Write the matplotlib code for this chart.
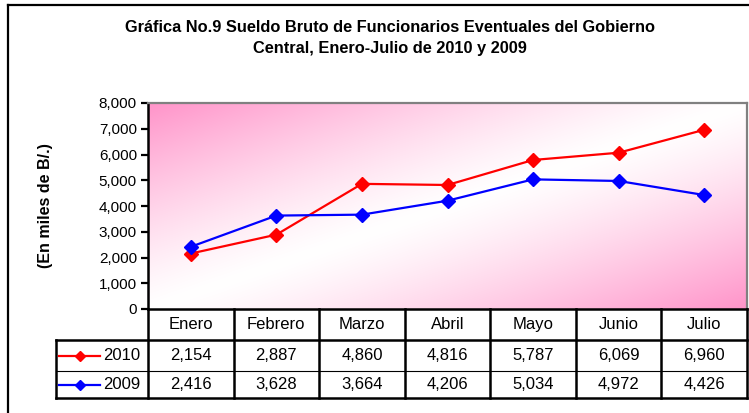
import numpy as np
import matplotlib.pyplot as plt
from matplotlib.lines import Line2D

plt.rcParams['font.family'] = ['Liberation Sans', 'DejaVu Sans']

meses = ['Enero', 'Febrero', 'Marzo', 'Abril', 'Mayo', 'Junio', 'Julio']
sueldo_2010 = [2154, 2887, 4860, 4816, 5787, 6069, 6960]
sueldo_2009 = [2416, 3628, 3664, 4206, 5034, 4972, 4426]
series = [('2010', sueldo_2010, '#ff0000'), ('2009', sueldo_2009, '#0000ff')]

W, H = 749, 413
fig = plt.figure(figsize=(W / 100, H / 100), dpi=100)

def fx(px):
    return px / W

def fy(py):
    return 1 - py / H

# outer frame (cropped on right and bottom)
fig.add_artist(Line2D([fx(7.5), 1.0], [fy(4.5), fy(4.5)], color='black', lw=1.6))
fig.add_artist(Line2D([fx(7.5), fx(7.5)], [fy(4.5), 0.0], color='black', lw=1.6))

fig.text(fx(390), fy(38), 'Gráfica No.9 Sueldo Bruto de Funcionarios Eventuales del Gobierno\n'
         'Central, Enero-Julio de 2010 y 2009', ha='center', va='center',
         fontsize=11.8, fontweight='bold', linespacing=1.45)

# main plot area
L, R, T, B = 148, 747, 103, 309
ax = fig.add_axes([fx(L), fy(B), fx(R - L), (B - T) / H])

# pink diagonal gradient background
n = 200
u, v = np.meshgrid(np.linspace(0, 1, n), np.linspace(1, 0, n))
s = np.abs(u - v)
k = s ** 1.25
pink = np.array([1.0, 0.58, 0.79])
img = 1 - k[..., None] * (1 - pink)
ax.imshow(img, extent=(0, 1, 0, 1), transform=ax.transAxes, aspect='auto',
          zorder=0, interpolation='bilinear')

x = np.arange(len(meses))
for name, vals, col in series:
    ax.plot(x, vals, color=col, lw=1.6, marker='D', ms=7, zorder=3)

ax.set_xlim(-0.5, len(meses) - 0.5)
ax.set_ylim(0, 8000)
ax.set_yticks(np.arange(0, 8001, 1000))
ax.set_yticklabels([f'{t:,}' for t in range(0, 8001, 1000)], fontsize=11)
ax.set_xticks([])
ax.tick_params(axis='y', length=5, width=1.6, pad=3, direction='out')
for side in ['left', 'bottom']:
    ax.spines[side].set_color('black')
    ax.spines[side].set_linewidth(1.8)
for side in ['top', 'right']:
    ax.spines[side].set_color('#808080')
    ax.spines[side].set_linewidth(1.6)
ax.set_ylabel('(En miles de B/.)', fontsize=11.5, fontweight='bold')
ax.yaxis.set_label_coords((53 - L) / (R - L), 0.5)

# data table below the plot
TL, TB = 56, 398
tab = fig.add_axes([fx(TL), fy(TB), fx(R - TL), (TB - B) / H])
unit = (R - L) / len(meses)
x0 = -0.5 - (L - TL) / unit
tab.set_xlim(x0, len(meses) - 0.5)
rows = [0, 31, 62, 89]
tab.set_ylim(rows[-1], rows[0])
tab.axis('off')

lk = dict(color='black', lw=1.8, clip_on=False)
for c in range(len(meses) + 1):
    tab.plot([c - 0.5, c - 0.5], [rows[0], rows[-1]], **lk)
tab.plot([x0, x0], [rows[1], rows[-1]], **lk)
tab.plot([x0, len(meses) - 0.5], [rows[1], rows[1]], **lk)
tab.plot([x0, len(meses) - 0.5], [rows[-1], rows[-1]], **lk)
tab.plot([x0, len(meses) - 0.5], [rows[2], rows[2]], color='black', lw=0.8, clip_on=False)

fs = 12
for i, m in enumerate(meses):
    tab.text(i, (rows[0] + rows[1]) / 2, m, ha='center', va='center', fontsize=fs)
for r, (name, vals, col) in enumerate(series):
    yc = (rows[r + 1] + rows[r + 2]) / 2
    for i, val in enumerate(vals):
        tab.text(i, yc, f'{val:,}', ha='center', va='center', fontsize=fs)
    a = x0 + (59 - TL) / unit
    b = x0 + (100 - TL) / unit
    tab.plot([a, b], [yc, yc], color=col, lw=1.6, clip_on=False)
    tab.plot([(a + b) / 2], [yc], color=col, marker='D', ms=5, clip_on=False)
    tab.text(x0 + (103 - TL) / unit, yc, name, ha='left', va='center', fontsize=fs)

fig.savefig('out.png', dpi=100)
